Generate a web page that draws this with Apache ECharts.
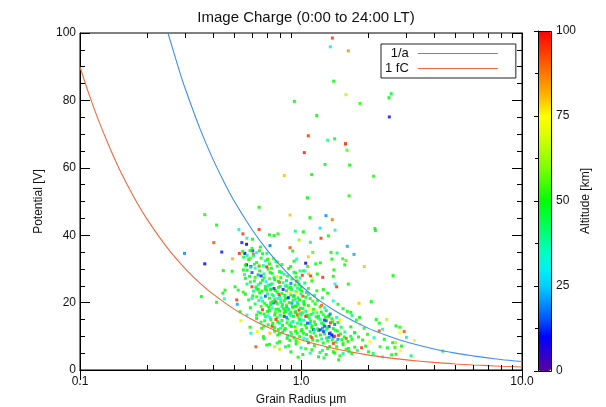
<!DOCTYPE html>
<html>
<head>
<meta charset="utf-8">
<script src="https://cdn.jsdelivr.net/npm/echarts@6/dist/echarts.min.js"></script>
<style>html,body{margin:0;padding:0;background:#fff}#c{width:606px;height:407px}</style>
</head>
<body>
<div id="c"></div>
<script>
// ---- axis ticks ----
const xMajorTicks = [0.1, 1, 10];
const xMinorTicks = [0.2,0.3,0.4,0.5,0.6,0.7,0.8,0.9,2,3,4,5,6,7,8,9];
const yTickLabels = [0, 20, 40, 60, 80, 100];
const colorbarTicks = [0, 25, 50, 75, 100];

// ---- reference curves [radius µm, potential V] ----
const curveInvA = [[0.25,100],[0.28,89.3],[0.3,83.3],[0.35,71.4],[0.4,62.5],[0.45,55.6],[0.5,50],[0.6,41.7],[0.7,35.7],[0.8,31.3],[0.9,27.8],[1,25],[1.2,20.8],[1.5,16.7],[2,12.5],[2.5,10],[3,8.3],[4,6.25],[5,5],[6,4.2],[7,3.6],[8,3.1],[10,2.5]];
const curve1fC = [[0.1,89.9],[0.11,81.7],[0.12,74.9],[0.135,66.6],[0.15,59.9],[0.175,51.4],[0.2,45],[0.25,36],[0.3,30],[0.35,25.7],[0.4,22.5],[0.5,18],[0.6,15],[0.7,12.8],[0.8,11.2],[1,9],[1.2,7.5],[1.5,6],[2,4.5],[2.5,3.6],[3,3],[4,2.25],[5,1.8],[6,1.5],[7,1.3],[8,1.12],[10,0.9]];

// ---- scatter points [radius µm, potential V, altitude km] ----
const pointsHigh = [
[1.386,98.5,95],[1.357,95.9,30],[1.637,94.7,85],[1.406,85.7,50],[1.598,81.7,65],[2.56,82.0,45],[2.50,80.8,50],
[0.933,79.7,50],[1.85,79.1,52],[2.51,75.1,12],[1.178,75.5,50],[1.079,69.5,95],[1.321,68.2,40],[1.42,68.6,48],
[1.587,66.8,30],[1.59,67.2,95],[1.035,64.5,97],[1.615,65.2,55],[1.284,61.0,50],[1.66,60.8,50],[0.84,57.7,80],
[1.118,58.0,50],[2.13,57.5,52],[1.07,51.1,50],[1.65,51.7,52]
];
const pointsMid = [
[0.892,46.0,80],[1.098,45.2,50],[1.297,45.8,20],[1.386,44.6,88],[1.22,42.1,28],[1.425,41.5,32],[0.942,41.2,40],
[1.025,41.0,50],[1.33,39.8,50],[1.232,39.1,95],[0.979,38.6,62],[1.102,37.9,42],[1.62,36.7,22],[0.892,36.3,92],
[0.917,35.3,50],[1.13,34.9,55],[1.367,34.9,50],[1.455,34.7,42],[1.737,34.3,22],[1.079,33.6,80],[0.956,32.9,35],
[1.38,32.9,50],[1.545,33.0,52],[1.598,32.5,55],[0.93,32.3,50],[1.223,31.8,50],[1.166,31.5,48],[1.05,31.7,8],
[1.577,31.2,50],[1.934,30.7,80],[0.898,30.7,50],[1.072,30.7,52],[1.41,29.7,50],[0.99,29.4,40],[1.025,29.4,45],
[1.043,29.4,35],[0.946,28.8,50],[1.083,28.5,80],[1.185,28.5,50],[1.014,28.1,95],[1.106,27.9,95],[1.254,27.5,95],
[1.4,27.8,50],[1.13,27.1,72],[2.61,28.0,50],[1.637,25.5,50],[1.425,25.5,30],[1.45,24.7,95],[1.262,23.9,50],
[0.956,26.4,95],[2.16,42.0,50],[2.17,41.4,48]
];
const pointsLeft = [
[0.646,48.3,50],[0.367,46.1,50],[0.415,43.0,50],[0.523,41.7,35],[0.646,41.7,95],[0.546,40.4,95],[0.569,39.1,30],
[0.603,38.8,50],[0.54,37.8,12],[0.567,37.3,10],[0.403,37.8,92],[0.72,40.1,50],[0.755,39.9,48],[0.787,40.4,52],
[0.605,35.4,15],[0.649,35.4,50],[0.724,36.9,18],[0.438,35.0,12],[0.297,34.6,20],[0.526,34.6,95],[0.557,34.6,10],
[0.588,35.4,50],[0.608,34.4,92],[0.49,33.0,82],[0.367,31.5,10],[0.567,31.2,10],[0.593,30.7,8],[0.445,29.5,50],
[0.488,29.3,50],[0.549,29.7,50],[0.649,30.9,80],[0.71,33.1,70],[0.785,32.0,82],[0.7,34.6,40],
[0.354,21.8,50],[0.415,20.1,50],[0.453,23.7,50],[0.443,22.8,50],[0.45,21.1,35],[0.503,24.7,50],[0.52,23.7,48],
[0.548,23.1,52],[0.535,14.6,70],[0.512,20.8,95],[0.515,19.5,22],[0.53,17.3,50],[0.569,16.3,35],[0.588,12.7,50],
[0.593,10.9,35],[0.625,6.9,92],[0.676,9.9,50],[0.7,7.4,50],[0.724,10.9,80],[0.76,6.9,65],[0.8,8.4,50],
[0.634,11.4,70],[0.664,12.4,50]
];
const pointsRight = [
[2.44,15.0,65],[2.69,13.1,50],[2.8,12.7,52],[2.34,12.1,35],[2.8,11.1,75],[2.93,11.4,92],[3.0,9.7,38],[3.26,8.7,70],
[2.38,9.1,50],[2.6,8.1,50],[2.68,8.1,62],[2.85,7.1,50],[2.46,6.6,48],[2.66,6.7,52],[2.81,5.7,72],[2.69,4.7,50],
[2.57,4.5,50],[3.15,4.2,42],[4.38,5.6,45],[2.34,3.9,35],[1.83,19.8,80],[2.08,20.3,50],[1.68,17.1,50],[1.84,15.6,50],
[2.19,15.0,50],[2.26,13.9,50],[2.26,11.6,92],[1.93,12.4,50],[1.75,11.1,48],[2.14,9.6,35],[2.05,8.4,72],[1.96,7.1,50],
[2.28,6.9,52],[1.88,6.6,95],[1.7,9.1,50],[2.02,5.4,50],[2.12,4.9,45],[1.55,4.9,38],[1.4,5.4,50],[1.64,6.4,50],[1.45,6.9,48],
[1.18,23.5,50],[1.25,21.4,45],[1.32,22.8,50],[1.4,20.5,35],[1.47,19.5,50],[1.55,18.2,48],[1.62,17.4,50],[1.7,16.2,40],
[1.78,14.8,50],[1.85,13.5,70],[1.68,12.8,50],[1.75,11.0,45],[1.82,9.8,50],[1.9,8.9,50],[2.0,10.6,52]
];
const pointsCore = [
[0.55,33.5,45],[0.58,32.8,50],[0.61,33.9,40],[0.63,31.9,52],[0.66,33.2,48],[0.69,32.4,35],[0.72,31.5,50],[0.75,33.0,55],
[0.78,30.8,47],[0.62,30.2,38],[0.57,29.6,50],[0.6,28.9,15],[0.65,29.4,50],[0.68,28.5,42],[0.71,29.9,53],[0.74,28.7,48],
[0.8,29.2,50],[0.84,28.4,36],[0.88,30.1,50],[0.93,29.0,45],[0.67,34.5,50],[0.7,30.6,97],[0.77,32.2,40],[0.82,31.3,52],
[0.64,28.2,20],[0.56,31.1,48],[0.59,30.5,33],
[0.56,27.2,50],[0.59,26.1,45],[0.62,27.5,52],[0.64,25.3,38],[0.67,26.6,50],[0.69,24.8,48],[0.72,27.1,55],[0.74,25.6,40],
[0.76,26.8,50],[0.79,24.5,45],[0.81,27.4,50],[0.83,25.9,35],[0.86,26.5,50],[0.88,24.3,52],[0.91,27.0,47],[0.94,25.2,50],
[0.97,26.2,40],[1.0,24.6,50],[1.04,25.8,45],[1.08,24.2,52],[0.6,24.7,95],[0.66,27.9,12],[0.71,25.1,33],[0.78,27.7,68],
[0.85,24.9,42],[0.9,25.7,18],[0.63,24.1,50],[0.57,25.5,42],[0.73,24.0,50],[0.8,26.0,92],[0.95,27.6,50],[0.99,27.3,38],
[1.12,26.4,50],[0.87,27.9,48],[0.68,27.4,45],
[0.56,22.5,50],[0.58,20.8,47],[0.61,23.4,40],[0.63,21.7,52],[0.65,22.9,50],[0.67,20.4,36],[0.7,23.7,48],[0.72,21.3,50],
[0.74,22.4,55],[0.76,20.9,45],[0.78,23.1,50],[0.8,21.8,40],[0.82,22.7,52],[0.84,20.5,48],[0.86,23.5,50],[0.88,21.6,35],
[0.9,22.3,50],[0.92,20.7,45],[0.95,23.2,50],[0.97,21.4,52],[1.0,22.6,40],[1.03,20.3,50],[1.06,23.0,47],[1.1,21.2,50],
[1.15,22.1,42],[1.19,20.6,50],[0.69,21.9,15],[0.77,20.2,95],[0.83,23.9,12],[0.89,22.9,70],[0.96,20.1,28],[1.02,21.9,93],
[0.6,21.2,33],[0.73,23.9,50],[0.81,20.1,45],[0.93,22.0,18],[0.99,23.8,50],[1.08,22.4,36],[0.64,23.9,50],[0.75,22.0,38],
[0.85,21.2,50],[1.13,20.4,55],
[0.59,18.5,50],[0.62,19.6,45],[0.64,17.2,40],[0.66,18.9,52],[0.68,16.6,50],[0.7,19.2,47],[0.72,17.7,50],[0.74,18.4,35],
[0.76,16.3,50],[0.78,19.7,48],[0.8,17.5,50],[0.82,18.8,42],[0.84,16.9,50],[0.86,19.3,55],[0.88,17.9,50],[0.9,16.2,38],
[0.92,18.6,50],[0.94,17.1,45],[0.97,19.5,50],[0.99,16.7,52],[1.02,18.2,50],[1.05,17.4,40],[1.08,19.1,50],[1.11,16.5,48],
[1.14,18.0,50],[1.18,17.0,36],[1.22,18.7,50],[1.26,16.4,45],[1.3,17.6,50],[1.34,16.1,52],[0.67,17.9,95],[0.75,19.9,15],
[0.83,16.0,70],[0.91,19.8,20],[0.98,17.8,96],[1.06,16.0,12],[1.16,19.6,50],[1.24,19.2,90],[0.71,16.1,33],[0.79,18.1,45],
[0.87,18.3,28],[0.95,18.9,50],[1.0,16.3,38],[1.1,17.9,75],[1.2,16.0,50],[0.63,16.3,50],[0.73,19.4,50],[0.85,17.4,50],
[1.03,19.8,45],[1.28,18.5,33],
[0.63,15.3,50],[0.66,14.2,45],[0.69,15.8,40],[0.71,13.4,50],[0.73,14.9,52],[0.76,12.6,50],[0.78,15.5,47],[0.8,13.9,35],
[0.82,14.7,50],[0.85,12.3,50],[0.87,15.1,48],[0.89,13.3,50],[0.92,14.4,42],[0.94,12.8,50],[0.97,15.7,55],[1.0,13.6,50],
[1.03,14.8,38],[1.06,12.5,50],[1.09,15.4,45],[1.12,13.1,50],[1.15,14.3,52],[1.19,12.2,50],[1.22,15.0,40],[1.26,13.7,50],
[1.3,14.6,15],[1.34,12.9,12],[1.38,15.2,50],[1.42,13.5,18],[1.47,14.1,50],[1.52,12.7,45],[0.74,13.0,95],[0.84,15.9,15],
[0.95,12.1,70],[1.05,15.9,93],[1.14,12.0,10],[1.25,12.4,20],[1.36,14.0,95],[1.45,15.6,35],[0.9,14.0,30],[1.01,12.0,50],
[1.17,15.8,48],[1.33,15.9,50],[0.79,12.0,50],[0.68,13.0,50],[1.1,13.8,25],[1.28,13.0,14],[1.4,12.3,50],[1.5,14.9,70],
[0.76,11.5,50],[0.8,10.8,45],[0.84,11.8,50],[0.87,10.2,40],[0.9,11.2,52],[0.93,9.6,50],[0.96,10.9,48],[1.0,11.6,50],
[1.03,9.4,35],[1.06,10.5,50],[1.1,11.4,45],[1.13,8.9,50],[1.17,10.1,52],[1.2,11.7,50],[1.24,9.2,40],[1.28,10.7,50],
[1.32,8.6,47],[1.36,11.1,50],[1.4,9.8,15],[1.44,8.3,50],[1.48,10.3,95],[1.53,9.0,50],[1.58,11.3,38],[1.63,8.5,50],
[1.68,10.0,45],[0.98,8.4,70],[1.08,8.1,95],[1.22,11.9,12],[1.34,9.7,20],[1.46,11.6,50],[1.6,9.4,93],[0.89,8.8,50],
[1.15,11.9,33],[1.26,8.0,50],[1.38,10.4,10],[1.55,8.0,55],
[0.72,7.6,50],[0.85,6.9,45],[0.95,7.8,50],[1.05,6.3,52],[1.15,7.2,50],[1.25,5.8,40],[1.35,7.0,50],[1.45,6.1,70],
[1.55,7.5,50],[1.65,5.5,45],[1.75,6.8,50],[0.9,5.4,50],[1.1,5.0,38],[1.3,4.6,50],[1.5,4.2,52],[1.2,3.9,50],[0.8,6.2,65],[1.4,7.9,95]
];
const pointsCoreDense = [
[0.545,35.2,50],[0.57,34.0,40],[0.6,36.1,48],[0.63,34.8,30],[0.655,36.5,50],[0.59,33.2,55],[0.615,31.4,45],[0.645,30.8,50],
[0.675,31.0,36],[0.705,32.8,52],[0.735,30.2,50],[0.555,28.3,38],[0.585,27.8,50],[0.615,26.4,48],[0.655,25.8,50],[0.695,26.2,30],
[0.725,28.9,50],[0.755,27.4,45],[0.79,26.3,50],[0.82,28.9,40],
[0.605,22.0,50],[0.625,24.6,45],[0.645,20.6,38],[0.665,23.4,50],[0.685,19.8,52],[0.705,22.6,40],[0.725,25.3,50],[0.745,20.3,47],
[0.765,23.6,50],[0.785,21.2,35],[0.805,24.8,50],[0.825,19.4,48],[0.845,22.1,50],[0.865,25.0,42],[0.885,20.0,50],[0.905,23.9,45],
[0.925,21.8,52],[0.945,19.0,50],[0.965,24.3,38],[0.985,20.8,50],[1.01,23.4,47],[1.035,19.3,50],[0.715,18.6,50],[0.755,24.2,14],
[0.795,22.4,94],[0.835,18.2,50],[0.875,21.4,12],[0.915,18.8,50],[0.955,22.8,72],[0.995,18.4,45],[0.66,21.4,30],[0.69,24.0,50],
[0.73,20.0,42],[0.77,18.0,50],[0.81,20.9,36],[0.86,18.7,50],[0.9,24.6,50],[0.94,21.0,40],[0.98,25.4,50],[1.05,21.6,48],
[0.655,16.9,50],[0.685,14.6,45],[0.705,17.4,50],[0.725,15.5,38],[0.745,13.8,50],[0.765,17.0,52],[0.785,14.3,50],[0.805,16.2,42],
[0.825,13.2,50],[0.845,17.7,45],[0.865,14.0,50],[0.885,16.6,36],[0.905,12.9,50],[0.925,15.9,48],[0.945,17.3,50],[0.965,13.9,40],
[0.985,15.0,50],[1.015,17.0,45],[1.045,13.3,50],[1.075,16.2,52],[1.105,14.5,50],[1.135,16.9,38],[1.165,13.5,50],[1.195,15.4,45],
[1.235,17.2,50],[1.275,14.8,14],[1.315,12.5,50],[1.355,16.6,18],[1.39,14.3,50],[0.77,15.0,95],[0.86,15.6,20],[0.96,16.4,92],
[1.07,13.9,15],[1.16,17.5,70],[1.29,15.7,50],[0.81,12.4,40],[0.9,17.1,50],[1.0,14.6,33],[1.12,12.6,50],[1.24,13.9,45],
[0.785,10.4,50],[0.825,11.2,45],[0.865,9.4,50],[0.905,10.5,40],[0.945,11.5,50],[0.985,9.9,52],[1.025,10.9,50],[1.065,9.1,38],
[1.105,10.0,50],[1.145,11.0,45],[1.185,8.7,50],[1.225,10.4,50],[1.265,11.4,14],[1.305,9.5,50],[1.345,10.8,12],[1.385,8.9,50],
[1.43,11.8,45],[1.47,9.1,20],[1.51,10.7,50],[1.57,9.8,50],[1.12,9.6,93],[1.3,11.9,40],[0.95,8.7,50],[1.42,10.0,96],
[0.68,9.3,50],[0.78,8.0,45],[0.88,7.2,50],[1.0,6.6,38],[1.12,6.0,50],[1.22,5.2,45],[1.32,6.4,50],[1.42,5.0,50],
[1.6,6.2,52],[1.7,4.9,50],[1.02,4.6,50],[1.27,3.6,45],[1.48,3.0,50],[1.8,5.8,40],[0.97,3.8,50]
];

const FONT = 'Liberation Sans, Arial, Helvetica, sans-serif';
const rainbow = ['#5a00a0','#3000d0','#0000ff','#0050ff','#0090ff','#00d0ff','#00f0f0','#00ffc0','#00ff80','#00ff40','#00ff00',
  '#40ff00','#80ff00','#b0ff00','#e0ff00','#ffff00','#ffc000','#ff9000','#ff6000','#ff3000','#ff0000'];

const scatterGroups = [pointsHigh, pointsMid, pointsLeft, pointsRight, pointsCore, pointsCoreDense];
const scatterSeries = scatterGroups.map((g, i) => ({
  type: 'scatter', name: 'pts' + i, xAxisIndex: 0, yAxisIndex: 0,
  data: g, symbol: 'rect', symbolSize: 3, itemStyle: {opacity: 0.85}, z: 3, silent: true
}));

const chart = echarts.init(document.getElementById('c'), null, {renderer: 'canvas'});
const axisCommonX = {
  type: 'log', logBase: 10, min: 0.1, max: 10, gridIndex: 0,
  axisLine: {lineStyle: {color: '#000', width: 1}},
  axisTick: {inside: true, length: 10, lineStyle: {color: '#000'}},
  splitLine: {show: false}
};
const axisCommonY = {
  type: 'value', min: 0, max: 100, interval: 20, gridIndex: 0,
  axisLine: {show: true, lineStyle: {color: '#000', width: 1}},
  axisTick: {inside: true, length: 10, lineStyle: {color: '#000'}},
  minorTick: {show: true, splitNumber: 4, length: 5, lineStyle: {color: '#000'}},
  splitLine: {show: false}
};

chart.setOption({
  animation: false,
  textStyle: {fontFamily: FONT},
  title: {
    text: 'Image Charge (0:00 to 24:00 LT)', left: 301, top: 5, textAlign: 'center',
    textStyle: {fontFamily: FONT, fontSize: 15, fontWeight: 'normal', color: '#111'}
  },
  legend: {
    data: ['1/a', '1 fC'], orient: 'vertical', left: 381, top: 44,
    align: 'right', itemWidth: 80, itemHeight: 10, itemGap: 2,
    borderColor: '#222', borderWidth: 1, padding: [3, 18, 3, 4],
    textStyle: {fontFamily: FONT, fontSize: 13, color: '#111', width: 27, align: 'right', padding: [0, 4, 0, 0]},
    icon: 'path://M0,5 L80,5 L80,6 L0,6 Z'
  },
  grid: [
    {left: 80, top: 33, width: 442, height: 337, show: true, borderColor: '#000', borderWidth: 1,
      backgroundColor: 'transparent', containLabel: false, outerBoundsMode: 'none'},
    {left: 538, top: 31, width: 13, height: 340, show: false, containLabel: false, outerBoundsMode: 'none'}
  ],
  xAxis: [
    Object.assign({}, axisCommonX, {
      position: 'bottom',
      name: 'Grain Radius µm', nameLocation: 'middle', nameGap: 24,
      nameTextStyle: {fontFamily: FONT, fontSize: 12, color: '#111'},
      axisLabel: {fontFamily: FONT, fontSize: 12, color: '#111', margin: 6,
        formatter: v => (xMajorTicks.indexOf(v) >= 0 ? v.toFixed(1) : '')}
    }),
    Object.assign({}, axisCommonX, {position: 'top', axisLabel: {show: false}}),
    {type: 'value', gridIndex: 1, show: false, min: 0, max: 1}
  ],
  yAxis: [
    Object.assign({}, axisCommonY, {
      position: 'left',
      name: 'Potential [V]', nameLocation: 'middle', nameGap: 31, nameRotate: 90,
      nameTextStyle: {fontFamily: FONT, fontSize: 12, color: '#111'},
      axisLabel: {fontFamily: FONT, fontSize: 12, color: '#111', margin: 4,
        formatter: v => (yTickLabels.indexOf(v) >= 0 ? String(v) : '')}
    }),
    Object.assign({}, axisCommonY, {position: 'right', axisLabel: {show: false}}),
    {
      type: 'value', gridIndex: 1, min: 0, max: 100, interval: 25, position: 'right',
      axisLine: {show: true, lineStyle: {color: '#000'}},
      axisTick: {inside: true, length: 4, lineStyle: {color: '#000'}},
      minorTick: {show: true, splitNumber: 2, length: 3, lineStyle: {color: '#000'}},
      splitLine: {show: false},
      axisLabel: {fontFamily: FONT, fontSize: 12, color: '#111', margin: 5,
        formatter: v => (colorbarTicks.indexOf(v) >= 0 ? String(v) : '')},
      name: 'Altitude [km]', nameLocation: 'middle', nameGap: 27, nameRotate: 90,
      nameTextStyle: {fontFamily: FONT, fontSize: 12, color: '#111'}
    }
  ],
  visualMap: {
    type: 'continuous', min: 0, max: 100, dimension: 2,
    seriesIndex: scatterSeries.map((s, i) => i),
    calculable: false, hoverLink: false, realtime: false,
    left: 538, top: 31, itemWidth: 13, itemHeight: 340, padding: 0,
    text: null, showLabel: false,
    inRange: {color: rainbow},
    borderWidth: 0
  },
  series: scatterSeries.concat([
    {
      type: 'line', name: '1/a', data: curveInvA, xAxisIndex: 0, yAxisIndex: 0,
      smooth: 0.3, symbol: 'none', lineStyle: {color: '#3d8ff0', width: 1.1}, itemStyle: {color: '#3d8ff0'}, z: 4, silent: true
    },
    {
      type: 'line', name: '1 fC', data: curve1fC, xAxisIndex: 0, yAxisIndex: 0,
      smooth: 0.3, symbol: 'none', lineStyle: {color: '#f4693b', width: 1.1}, itemStyle: {color: '#f4693b'}, z: 4, silent: true
    },
    {
      type: 'custom', name: 'minorX', xAxisIndex: 0, yAxisIndex: 0, silent: true, z: 5,
      data: xMinorTicks.map(v => [v, 0]),
      renderItem: function (params, api) {
        const v = api.value(0);
        const b = api.coord([v, 0]);
        const t = api.coord([v, 100]);
        const st = {stroke: '#000', lineWidth: 1};
        const x = Math.round(b[0]) + 0.5;
        return {type: 'group', children: [
          {type: 'line', shape: {x1: x, y1: b[1], x2: x, y2: b[1] - 5}, style: st},
          {type: 'line', shape: {x1: x, y1: t[1], x2: x, y2: t[1] + 5}, style: st}
        ]};
      }
    },
    {
      type: 'custom', name: 'cbBorder', xAxisIndex: 2, yAxisIndex: 2, silent: true, z: 10,
      data: [[0, 0]],
      renderItem: function (params, api) {
        const p0 = api.coord([0, 100]);
        const p1 = api.coord([1, 0]);
        return {type: 'rect', shape: {x: p0[0] + 0.5, y: p0[1] + 0.5, width: p1[0] - p0[0], height: p1[1] - p0[1]},
          style: {fill: 'none', stroke: '#000', lineWidth: 1}};
      }
    }
  ])
});
</script>
</body>
</html>
